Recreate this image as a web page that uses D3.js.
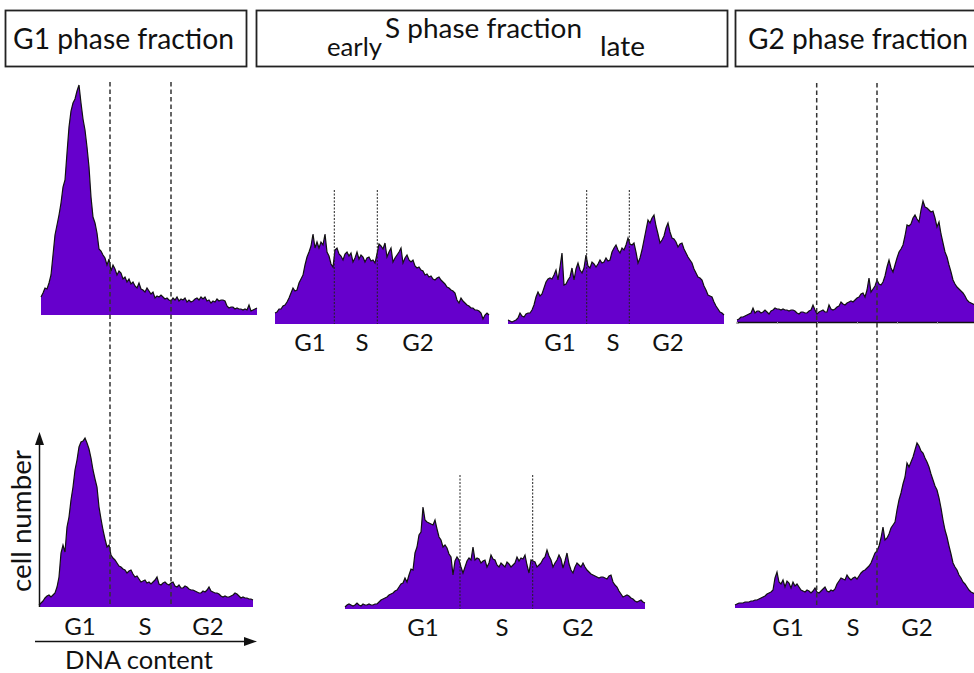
<!DOCTYPE html>
<html><head><meta charset="utf-8">
<script src="https://cdn.jsdelivr.net/npm/d3@7"></script>
<style>body{margin:0;background:#fff}svg{display:block}</style>
</head><body>
<svg id="chart" width="974" height="673"></svg>
<script>
// ---------- data (cell counts per DNA-content channel) ----------
const g1TopCounts = [18,22,27,26,32,40,60,80,90,100,112,128,135,162,188,204,212,216,224,230,212,196,185,168,148,118,98,92,82,66,64,60,57,50,56,44,50,46,40,44,42,36,38,33,36,31,33,29,27,32,26,25,23,27,24,21,23,17,19,18,20,18,16,17,15,14,17,15,18,14,16,15,17,13,15,13,14,16,17,15,18,16,18,14,15,12,14,13,16,14,15,15,14,9,7,8,8,6,7,6,6,5,6,5,10,4,5,6,7];
const earlySCounts = [11,12,15,15,18,19,22,26,31,36,33,34,41,45,49,59,67,72,78,90,76,82,76,82,79,90,72,68,60,57,74,76,70,68,64,70,72,68,71,62,66,72,65,69,67,62,66,67,63,64,61,70,80,78,75,81,67,72,76,62,66,69,72,76,61,66,69,64,62,64,58,56,57,54,53,49,50,47,48,45,44,46,47,44,42,40,37,36,34,33,31,24,21,26,23,21,19,18,16,16,14,14,13,11,5,9,11,9];
const lateSCounts = [4,3,2,3,4,6,11,8,7,10,11,11,14,19,27,32,28,30,36,42,45,46,45,49,54,44,57,71,39,40,44,47,56,44,55,61,54,51,56,69,58,56,62,60,57,60,64,61,62,66,63,64,72,76,79,74,71,76,74,79,86,80,79,81,72,61,66,74,84,94,104,101,106,109,98,90,81,84,88,96,101,92,86,85,82,77,80,81,75,71,67,64,61,55,51,47,46,44,38,34,29,28,27,22,18,15,12,11,9];
const g2TopCounts = [2,3,5,5,6,7,8,9,14,9,11,11,9,10,12,10,8,11,12,14,13,13,12,13,12,12,11,12,12,11,9,8,10,10,9,9,11,12,17,12,8,10,11,12,10,10,17,13,12,13,15,16,20,18,17,19,20,21,20,22,24,25,28,29,25,32,44,30,33,36,42,38,37,40,46,55,62,54,50,57,64,70,73,77,86,97,96,98,104,107,103,100,112,121,115,114,112,110,111,104,95,100,88,79,70,65,57,50,42,38,35,33,31,29,26,22,20,19,18,17];
const g1BottomCounts = [2,4,6,9,11,12,10,12,14,20,30,54,62,55,80,90,107,120,137,147,160,165,166,169,164,158,149,137,128,120,100,88,77,68,60,62,52,49,47,44,41,40,38,37,34,36,37,33,30,31,28,25,26,27,24,25,23,25,27,30,23,22,24,25,23,22,24,25,21,20,22,19,19,21,20,18,17,17,16,15,14,14,16,15,17,20,16,15,14,14,13,11,10,11,10,10,11,12,14,13,11,9,10,9,9,8,8,7];
const sBottomCounts = [2,4,5,4,3,4,6,4,3,5,4,4,5,4,4,5,5,7,9,10,11,12,14,15,16,18,19,22,25,26,31,27,34,40,39,56,62,74,77,102,89,87,86,85,84,89,80,72,69,62,64,61,55,52,34,48,52,49,42,36,42,48,51,49,62,49,51,50,46,48,49,42,46,54,50,49,44,42,46,44,42,47,45,42,44,46,52,48,51,50,54,44,36,49,48,47,42,44,46,50,52,59,53,49,42,46,49,54,50,41,48,56,45,39,36,42,46,44,42,46,42,39,37,35,34,33,32,31,32,32,31,30,33,34,27,24,22,18,15,12,13,14,13,11,10,8,7,8,9,7,6];
const g2BottomCounts = [3,4,5,5,5,6,6,6,7,7,8,8,9,10,11,12,14,15,16,18,30,36,26,24,28,21,27,25,20,26,22,24,21,18,17,16,18,17,15,17,20,16,15,17,19,21,17,16,18,17,19,24,27,30,29,28,33,30,28,30,31,29,32,35,37,38,40,42,45,50,55,57,62,70,81,68,70,74,80,83,86,98,108,115,124,131,145,141,146,151,158,165,162,157,155,150,146,141,134,128,122,118,110,100,88,78,71,62,54,45,41,38,33,30,26,24,21,18,16,15,14];

// gate positions (channel index) for each histogram
const g1ColumnGates = [34.5, 65];
const earlySGates = [29.65, 51.15];
const lateSGates = [39.35, 60.65];
const g2ColumnGates = [39.85, 70];
const sBottomGates = [57.5, 93.85];

const phaseLabels = ["G1", "S", "G2"];
const headerTitles = ["G1 phase fraction", "S phase fraction", "G2 phase fraction"];
const sSubLabels = ["early", "late"];
const axisTitles = ["DNA content", "cell number"];

// ---------- layout ----------
const FONT = "Lato, 'Open Sans', sans-serif";
const FILL = "#6600cc";
const STEP = 2; // px per channel
const svg = d3.select("#chart");

const panels = [
  {id:"g1top", counts:g1TopCounts, x0:41, base:315},
  {id:"early", counts:earlySCounts, x0:275, base:324, gates:earlySGates, gTop:190, labels:[310,362,418], labY:351},
  {id:"late", counts:lateSCounts, x0:508, base:324, gates:lateSGates, gTop:190, labels:[560,613,668], labY:351},
  {id:"g2top", counts:g2TopCounts, x0:737, base:322, axisLine:true},
  {id:"g1bot", counts:g1BottomCounts, x0:39, base:607, labels:[80,145,208], labY:635},
  {id:"sbot", counts:sBottomCounts, x0:345, base:609, gates:sBottomGates, gTop:475, labels:[423,502,578], labY:636},
  {id:"g2bot", counts:g2BottomCounts, x0:735, base:608, labels:[788,853,917], labY:636}
];

panels.forEach(p => {
  const n = p.counts.length;
  p.x = d3.scaleLinear().domain([0, n - 1]).range([p.x0, p.x0 + STEP * (n - 1)]);
  p.y = d3.scaleLinear().domain([0, 240]).range([p.base, p.base - 240]);
  const g = svg.append("g").attr("class", p.id);
  const area = d3.area().x((d,i)=>p.x(i)).y0(p.base).y1(d=>p.y(d));
  const line = d3.line().x((d,i)=>p.x(i)).y(d=>p.y(d));
  g.append("path").datum(p.counts).attr("d", area).attr("fill", FILL);
  g.append("path").datum(p.counts).attr("d", line).attr("fill","none")
    .attr("stroke","#111").attr("stroke-width",1.2).attr("stroke-linejoin","miter");
  if (p.axisLine) {
    const ax = d3.axisBottom(p.x).ticks(8).tickSize(2).tickFormat("");
    const ag = g.append("g").attr("transform", `translate(0,${p.base})`).call(ax);
    ag.select(".domain").attr("stroke","#111").attr("stroke-width",1.6);
    ag.selectAll(".tick line").attr("stroke","#999");
  }
  if (p.gates) {
    g.selectAll("line.gate").data(p.gates).join("line")
      .attr("x1", d=>p.x(d)).attr("x2", d=>p.x(d))
      .attr("y1", p.gTop).attr("y2", p.base)
      .attr("stroke","#222").attr("stroke-width",1).attr("stroke-dasharray","2,1.5");
  }
  if (p.labels) {
    g.selectAll("text.ph").data(phaseLabels).join("text")
      .attr("x", (d,i)=>p.labels[i]).attr("y", p.labY)
      .attr("text-anchor","middle").attr("font-family",FONT).attr("font-size",24)
      .attr("fill","#111").text(d=>d);
  }
});

// column-spanning gates (G1 and G2 columns)
const pA = panels[0], pE = panels[4], pD = panels[3], pG = panels[6];
svg.append("g").selectAll("line").data(g1ColumnGates).join("line")
  .attr("x1", d=>pA.x(d)).attr("x2", d=>pA.x(d)).attr("y1", 82).attr("y2", pE.base)
  .attr("stroke","#333").attr("stroke-width",1.5).attr("stroke-dasharray","4.5,3");
svg.append("g").selectAll("line").data(g2ColumnGates).join("line")
  .attr("x1", d=>pD.x(d)).attr("x2", d=>pD.x(d)).attr("y1", 83).attr("y2", pG.base)
  .attr("stroke","#333").attr("stroke-width",1.5).attr("stroke-dasharray","4.5,3");

// ---------- header boxes ----------
const boxes = [[5,10,241,56],[256,10,471,56],[735,10,250,56]];
svg.append("g").selectAll("rect").data(boxes).join("rect")
  .attr("x",d=>d[0]+0.5).attr("y",d=>d[1]+0.5).attr("width",d=>d[2]).attr("height",d=>d[3])
  .attr("fill","none").attr("stroke","#222").attr("stroke-width",1.8);

function fitText(sel, target) {
  const w = sel.node().getComputedTextLength();
  const fs = +sel.attr("font-size");
  sel.attr("font-size", fs * target / w);
}
const hdr = [
  {t:headerTitles[0], x:123.5, y:49, w:221},
  {t:headerTitles[1], x:483.5, y:38, w:197},
  {t:headerTitles[2], x:858, y:49, w:220},
  {t:sSubLabels[0], x:354.5, y:56, w:55},
  {t:sSubLabels[1], x:622.5, y:56, w:45}
];
hdr.forEach(h => {
  const t = svg.append("text").attr("x",h.x).attr("y",h.y).attr("text-anchor","middle")
    .attr("font-family",FONT).attr("font-size",28).attr("fill","#111").text(h.t);
  fitText(t, h.w);
});

// ---------- axis arrows ----------
const ax = svg.append("g");
ax.append("line").attr("x1",39.5).attr("x2",39.5).attr("y1",607).attr("y2",442).attr("stroke","#111").attr("stroke-width",1.5);
ax.append("path").attr("d","M39.5,432 L35,445 L44,445 Z").attr("fill","#111");
ax.append("line").attr("x1",35).attr("x2",246).attr("y1",641.5).attr("y2",641.5).attr("stroke","#111").attr("stroke-width",1.5);
ax.append("path").attr("d","M257,641.5 L244,637 L244,646 Z").attr("fill","#111");
const xt = ax.append("text").attr("x",139).attr("y",669).attr("text-anchor","middle")
  .attr("font-family",FONT).attr("font-size",26).attr("fill","#111").text(axisTitles[0]);
fitText(xt, 148);
const yt = ax.append("text").attr("transform","translate(31,521) rotate(-90)").attr("text-anchor","middle")
  .attr("font-family",FONT).attr("font-size",27).attr("fill","#111").text(axisTitles[1]);
fitText(yt, 142);
</script>
</body></html>
